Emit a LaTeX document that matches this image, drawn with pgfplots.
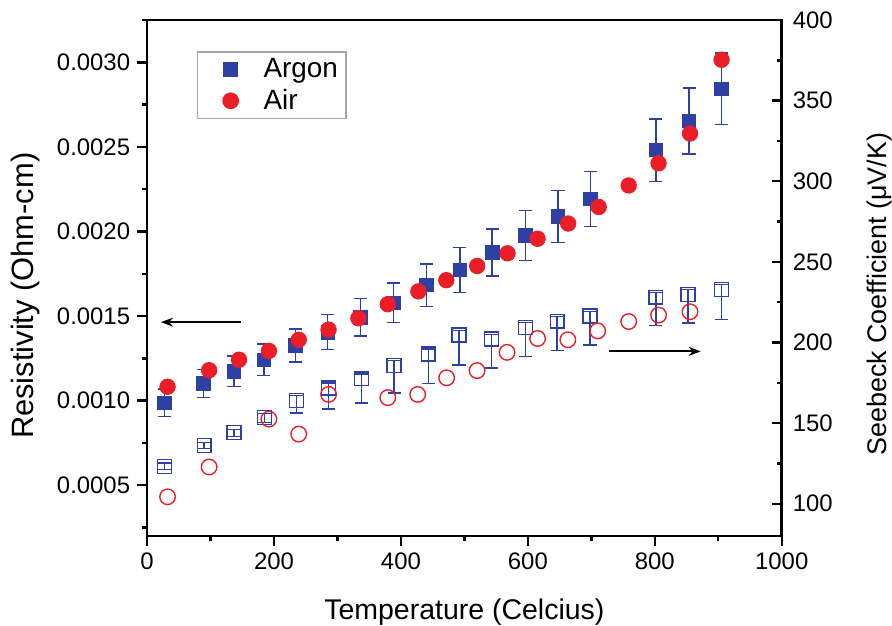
\documentclass[border=0pt]{standalone}
\usepackage{fontspec}
\setmainfont{Liberation Sans}
\usepackage{pgfplots}
\pgfplotsset{compat=1.18}
\usetikzlibrary{arrows.meta}
\definecolor{ablue}{RGB}{45,65,165}
\definecolor{ared}{RGB}{235,30,40}
\begin{document}
\begin{tikzpicture}
\pgfplotsset{
  common/.style={
    scale only axis, width=318.7pt, height=259.1pt,
    xmin=0, xmax=1000,
    axis line style={line width=1.4pt},
    tick style={line width=1.2pt, black},
    major tick length=5pt, minor tick length=2.5pt,
    /pgf/number format/assume math mode=true,
    /pgf/number format/1000 sep={},
    tick label style={font=\fontsize{12}{14}\selectfont},
  },
  legimg/.style={legend image code/.code={\path (0cm,0cm) (1.0cm,0cm); \draw[##1] plot coordinates {(0.5cm,0cm)};}},
}
\begin{axis}[common,
  ymin=0.0002, ymax=0.00325,
  tick align=outside,
  xtick pos=bottom, ytick pos=left,
  xtick={0,200,400,600,800,1000}, minor xtick={100,300,500,700,900},
  ytick={0.0005,0.001,0.0015,0.002,0.0025,0.003},
  minor ytick={0.00025,0.00075,0.00125,0.00175,0.00225,0.00275,0.00325},
  scaled y ticks=false,
  yticklabel style={/pgf/number format/fixed, /pgf/number format/fixed zerofill, /pgf/number format/precision=4},
  xlabel={Temperature (Celcius)}, ylabel={Resistivity (Ohm-cm)},
  xlabel style={at={(axis description cs:0.5,-0.161)}, anchor=base, inner sep=0pt, font=\fontsize{14.3}{16}\selectfont},
  ylabel style={at={(axis description cs:-0.1795,0.4656)}, anchor=base, inner sep=0pt, font=\fontsize{15.5}{17}\selectfont},
  legend style={at={(0.079,0.939)}, anchor=north west, draw=gray!70, line width=0.6pt,
    font=\fontsize{14}{16}\selectfont, row sep=0.5pt, inner xsep=2pt, inner ysep=1pt},
  legend cell align=left,
]
\addplot[only marks, mark=square*, mark size=3.4pt, color=ablue, legimg,
  error bars/.cd, y dir=both, y explicit,
  error bar style={line width=0.7pt},
  error mark options={rotate=90, mark size=3.3pt, line width=0.7pt}]
  table[x=x, y=y, y error=e] {
x y e
27.2 0.000988 0.000081
88.9 0.001102 0.000082
137 0.001174 0.000091
184 0.001242 0.000094
234 0.001326 0.000098
284.6 0.001405 0.000104
336 0.001493 0.000110
388 0.001579 0.000117
440.5 0.001683 0.000125
492.9 0.001773 0.000132
543.7 0.001875 0.000139
596 0.001976 0.000147
647.4 0.002090 0.000154
698.6 0.002192 0.000161
801.6 0.002481 0.000184
854 0.002653 0.000195
904.7 0.002843 0.000212
};
\addlegendentry{Argon}
\addplot[only marks, mark=*, mark size=3.9pt, color=ared, legimg] table {
x y
32.3 0.001082
97.8 0.00118
144.9 0.001242
192 0.001294
239 0.00136
286 0.00142
333 0.001487
379.3 0.00157
427.5 0.001646
471.5 0.001712
520.2 0.001796
568 0.001871
615.3 0.001957
663.5 0.002047
711.6 0.002145
758.9 0.002272
805.9 0.002403
855.5 0.002579
905.2 0.003015
};
\addlegendentry{Air}
\draw[line width=0.9pt, -{Stealth[length=6pt,width=4.5pt]}] (axis cs:147.6,0.001464) -- (axis cs:22,0.001464);
\end{axis}
\begin{axis}[common,
  ymin=80, ymax=400,
  axis x line=none, axis y line*=right,
  tick align=inside,
  ytick={100,150,200,250,300,350,400}, minor ytick={125,175,225,275,325,375},
  yticklabel style={xshift=2pt},
  ylabel={Seebeck Coefficient (μV/K)},
  ylabel style={at={(axis description cs:1.165,0.4685)}, anchor=base, rotate=0, inner sep=0pt, font=\fontsize{13.5}{16}\selectfont},
]
\addplot[only marks, mark=square, mark size=3.5pt, color=ablue, mark options={line width=0.7pt},
  error bars/.cd, y dir=both, y explicit,
  error bar style={line width=0.7pt},
  error mark options={rotate=90, mark size=3.3pt, line width=0.7pt}]
  table[x=x, y=y, y error plus=ep, y error minus=em] {
x y ep em
27.2 123.2 2 2
90 136.1 2 2
137 144.1 2 2.5
185.2 153.5 2.5 3
235.5 164.2 3 8
286.3 171.8 3 13
337.5 177.5 3 15
389.3 185.7 3 17
443 192.9 3 18.5
491.4 204.6 3 18.5
542.6 202.1 3 18
596 209.3 3 18
646.2 213.2 3 18.3
698 216.4 3 18
801.6 228.1 3 17.4
852.5 229.8 3 17.8
904.7 232.8 3 18.5
};
\addplot[only marks, mark=o, mark size=3.9pt, color=ared, mark options={line width=0.7pt}] table {
x y
32.3 104.3
97.8 122.8
192 152.5
239 143.2
286 167.8
379.3 165.8
426.4 167.8
472 178.1
520 182.6
567.2 193.9
615.3 202.5
663 201.7
710 207.2
758.9 213
805.9 217
855.5 219.1
};
\draw[line width=0.9pt, -{Stealth[length=6pt,width=4.5pt]}] (axis cs:728.5,194.5) -- (axis cs:872.3,194.5);
\end{axis}
\path (-73.85pt,-44.85pt) rectangle (372.15pt,269.15pt);
\end{tikzpicture}
\end{document}
